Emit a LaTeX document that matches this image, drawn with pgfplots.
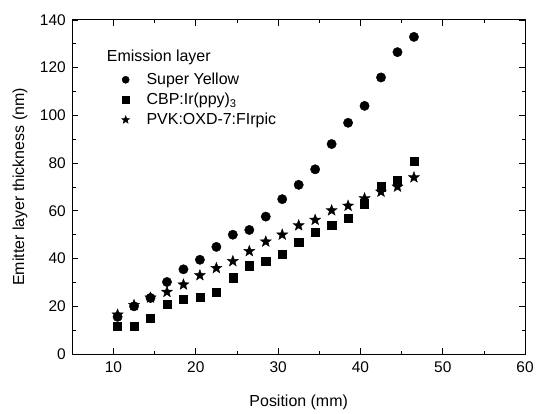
\documentclass[border=0pt]{standalone}
\usepackage{fontspec}
\setmainfont{Liberation Sans}
\usepackage{pgfplots}
\pgfplotsset{compat=1.18}
\pgfdeclareplotmark{fstar}{%
  \pgfpathmoveto{\pgfqpointpolar{90}{\pgfplotmarksize}}%
  \pgfpathlineto{\pgfqpointpolar{126}{0.42\pgfplotmarksize}}%
  \pgfpathlineto{\pgfqpointpolar{162}{\pgfplotmarksize}}%
  \pgfpathlineto{\pgfqpointpolar{198}{0.42\pgfplotmarksize}}%
  \pgfpathlineto{\pgfqpointpolar{234}{\pgfplotmarksize}}%
  \pgfpathlineto{\pgfqpointpolar{270}{0.42\pgfplotmarksize}}%
  \pgfpathlineto{\pgfqpointpolar{306}{\pgfplotmarksize}}%
  \pgfpathlineto{\pgfqpointpolar{342}{0.42\pgfplotmarksize}}%
  \pgfpathlineto{\pgfqpointpolar{18}{\pgfplotmarksize}}%
  \pgfpathlineto{\pgfqpointpolar{54}{0.42\pgfplotmarksize}}%
  \pgfpathclose
  \pgfusepathqfillstroke
}
\begin{document}
\begin{tikzpicture}[font=\fontsize{15.5}{18}\selectfont]
\begin{axis}[
  scale only axis,
  width=454pt, height=335pt,
  xmin=5, xmax=60, ymin=0, ymax=140,
  xtick={10,20,...,60}, ytick={0,20,...,140},
  minor x tick num=1, minor y tick num=1,
  tick align=inside,
  major tick length=6pt, minor tick length=3.5pt,
  axis line style={line width=1pt},
  every tick/.style={line width=0.8pt, black},
  /pgf/number format/assume math mode=true,
  xticklabel style={yshift=-4pt},
  yticklabel style={xshift=-3pt},
  xlabel={Position (mm)},
  ylabel={Emitter layer thickness (nm)},
  xlabel style={at={(axis description cs:0.5,-0.145)}, anchor=center, font=\fontsize{16}{19}\selectfont},
  ylabel style={at={(axis description cs:-0.1156,0.5)}, anchor=center, font=\fontsize{16}{19}\selectfont},
  legend cell align=left,
  legend style={draw=none, fill=none, at={(rel axis cs:0.102,0.853)}, anchor=north west, row sep=3pt,
    font=\fontsize{16}{19}\selectfont,
    /tikz/every odd column/.append style={column sep=15pt}},
]
\addplot[only marks, mark=*, mark size=4.7pt, black, legend image post style={mark size=3.6pt}] coordinates {
(10.5,15.6)(12.5,20.0)(14.5,23.5)(16.5,30.2)(18.5,35.5)(20.5,39.5)(22.5,44.9)(24.5,50.0)(26.5,52.0)(28.5,57.6)(30.5,64.9)(32.5,70.9)(34.5,77.4)(36.5,88.0)(38.5,96.9)(40.5,104.0)(42.5,115.9)(44.5,126.5)(46.5,132.9)};
\addlegendentry{Super Yellow}
\addplot[only marks, mark=square*, mark size=4.1pt, black, legend image post style={mark size=3.3pt}] coordinates {
(10.5,11.8)(12.5,11.8)(14.5,15.0)(16.5,21.0)(18.5,23.1)(20.5,23.9)(22.5,26.0)(24.5,32.0)(26.5,37.0)(28.5,38.9)(30.5,42.0)(32.5,46.9)(34.5,50.9)(36.5,53.9)(38.5,57.0)(40.5,63.0)(42.5,70.1)(44.5,73.0)(46.5,80.9)};
\addlegendentry{CBP:Ir(ppy)\textsubscript{3}}
\addplot[only marks, mark=fstar, mark size=5.8pt, black, fill=black, legend image post style={mark size=4.2pt}] coordinates {
(10.5,16.5)(12.5,20.5)(14.5,23.6)(16.5,26.0)(18.5,29.1)(20.5,33.0)(22.5,36.0)(24.5,38.9)(26.5,43.1)(28.5,47.1)(30.5,50.0)(32.5,53.9)(34.5,56.2)(36.5,60.2)(38.5,62.1)(40.5,65.2)(42.5,68.0)(44.5,70.1)(46.5,74.0)};
\addlegendentry{PVK:OXD-7:FIrpic}
\node[anchor=base west, inner sep=0pt, font=\fontsize{16}{19}\selectfont] at (rel axis cs:0.076,0.8746) {Emission layer};
\end{axis}
\path[use as bounding box] (-72.5pt,-54pt) rectangle (464.5pt,355pt);
\end{tikzpicture}
\end{document}
